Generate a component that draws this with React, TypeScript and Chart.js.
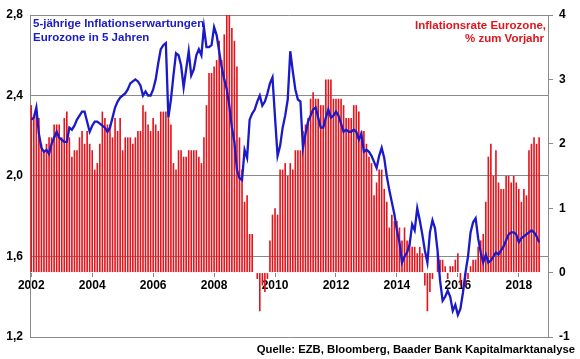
import React, { useEffect, useRef } from 'react';
import { Chart, registerables } from 'chart.js';

Chart.register(...registerables);

// ---------- data ----------
const years = [2002, 2003, 2004, 2005, 2006, 2007, 2008, 2009, 2010, 2011, 2012, 2013, 2014, 2015, 2016, 2017, 2018];
const xTickYears = ['2002', '2004', '2006', '2008', '2010', '2012', '2014', '2016', '2018'];
const leftTicks = [1.2, 1.6, 2.0, 2.4, 2.8];
const rightTicks = [-1, 0, 1, 2, 3, 4];

// Inflation rate eurozone, % yoy (right axis), monthly
const hicp2002 = [2.6, 2.4, 2.5, 2.4, 2.0, 1.9, 2.0, 2.1, 2.1, 2.3, 2.3, 2.3];
const hicp2003 = [2.1, 2.4, 2.5, 2.1, 1.8, 1.9, 1.9, 2.1, 2.2, 2.0, 2.2, 2.0];
const hicp2004 = [1.9, 1.6, 1.7, 2.0, 2.5, 2.4, 2.3, 2.3, 2.1, 2.4, 2.2, 2.4];
const hicp2005 = [1.9, 2.1, 2.1, 2.1, 2.0, 2.1, 2.2, 2.2, 2.6, 2.5, 2.3, 2.2];
const hicp2006 = [2.4, 2.3, 2.2, 2.5, 2.5, 2.5, 2.4, 2.3, 1.7, 1.6, 1.9, 1.9];
const hicp2007 = [1.8, 1.8, 1.9, 1.9, 1.9, 1.9, 1.8, 1.7, 2.1, 2.6, 3.1, 3.1];
const hicp2008 = [3.2, 3.3, 3.6, 3.3, 3.7, 4.0, 4.0, 3.8, 3.6, 3.2, 2.1, 1.6];
const hicp2009 = [1.1, 1.2, 0.6, 0.6, 0.0, -0.1, -0.6, -0.2, -0.3, -0.1, 0.5, 0.9];
const hicp2010 = [1.0, 0.9, 1.6, 1.6, 1.7, 1.5, 1.7, 1.6, 1.9, 1.9, 1.9, 2.2];
const hicp2011 = [2.3, 2.4, 2.7, 2.8, 2.7, 2.7, 2.6, 2.6, 3.0, 3.0, 3.0, 2.7];
const hicp2012 = [2.7, 2.7, 2.7, 2.6, 2.4, 2.4, 2.4, 2.6, 2.6, 2.5, 2.2, 2.2];
const hicp2013 = [2.0, 1.8, 1.7, 1.2, 1.4, 1.6, 1.6, 1.3, 1.1, 0.7, 0.9, 0.8];
const hicp2014 = [0.8, 0.7, 0.5, 0.7, 0.5, 0.5, 0.4, 0.4, 0.3, 0.4, 0.3, -0.2];
const hicp2015 = [-0.6, -0.3, -0.1, 0.0, 0.3, 0.2, 0.2, 0.1, -0.1, 0.1, 0.1, 0.2];
const hicp2016 = [0.3, -0.2, 0.0, -0.2, -0.1, 0.1, 0.2, 0.2, 0.4, 0.5, 0.6, 1.1];
const hicp2017 = [1.8, 2.0, 1.5, 1.9, 1.4, 1.3, 1.3, 1.5, 1.5, 1.4, 1.5, 1.4];
const hicp2018 = [1.3, 1.1, 1.3, 1.2, 1.9, 2.0, 2.1, 2.0, 2.1];

// 5y inflation expectations in 5 years (left axis), monthly
const exp2002 = [2.28, 2.29, 2.34, 2.21, 2.14, 2.12, 2.13, 2.11, 2.16, 2.19, 2.22, 2.19];
const exp2003 = [2.18, 2.17, 2.17, 2.24, 2.23, 2.25, 2.28, 2.30, 2.32, 2.32, 2.27, 2.22];
const exp2004 = [2.25, 2.27, 2.27, 2.26, 2.25, 2.24, 2.22, 2.24, 2.29, 2.34, 2.37, 2.39];
const exp2005 = [2.40, 2.41, 2.43, 2.46, 2.47, 2.48, 2.47, 2.45, 2.40, 2.42, 2.40, 2.40];
const exp2006 = [2.43, 2.48, 2.56, 2.63, 2.65, 2.66, 2.29, 2.38, 2.50, 2.61, 2.60, 2.55];
const exp2007 = [2.44, 2.53, 2.62, 2.50, 2.53, 2.60, 2.63, 2.60, 2.74, 2.64, 2.64, 2.65];
const exp2008 = [2.74, 2.70, 2.62, 2.54, 2.48, 2.43, 2.35, 2.24, 2.17, 2.03, 1.99, 1.98];
const exp2009 = [2.13, 2.09, 2.28, 2.31, 2.33, 2.37, 2.40, 2.35, 2.37, 2.41, 2.46, 2.49];
const exp2010 = [2.29, 2.10, 2.15, 2.24, 2.30, 2.38, 2.62, 2.52, 2.43, 2.38, 2.37, 2.14];
const exp2011 = [2.21, 2.27, 2.30, 2.33, 2.34, 2.29, 2.24, 2.24, 2.29, 2.33, 2.29, 2.30];
const exp2012 = [2.32, 2.30, 2.26, 2.22, 2.23, 2.22, 2.22, 2.23, 2.22, 2.18, 2.21, 2.12];
const exp2013 = [2.13, 2.12, 2.10, 2.07, 2.04, 2.10, 2.14, 2.09, 2.00, 1.93, 1.87, 1.81];
const exp2014 = [1.73, 1.67, 1.57, 1.60, 1.62, 1.66, 1.76, 1.73, 1.84, 1.78, 1.71, 1.63];
const exp2015 = [1.57, 1.72, 1.78, 1.74, 1.63, 1.48, 1.38, 1.40, 1.43, 1.40, 1.33, 1.36];
const exp2016 = [1.31, 1.34, 1.42, 1.52, 1.60, 1.72, 1.77, 1.79, 1.69, 1.62, 1.57, 1.61];
const exp2017 = [1.57, 1.58, 1.60, 1.62, 1.61, 1.63, 1.65, 1.68, 1.71, 1.72, 1.72, 1.71];
const exp2018 = [1.67, 1.69, 1.70, 1.71, 1.72, 1.73, 1.72, 1.70, 1.67];

const blueTitle = ['5-jährige Inflationserwartungen', 'Eurozone in 5 Jahren'];
const redTitle = ['Inflationsrate Eurozone,', '% zum Vorjahr'];
const sourceText = 'Quelle: EZB, Bloomberg, Baader Bank Kapitalmarktanalyse';

// ---------- styles ----------
const RED = '#E3141C';
const BLUE = '#1A1AC8';
const GRID = '#8a8a8a';
const FONT = '"Liberation Sans", Arial, sans-serif';

const categories: string[] = [];
years.forEach((y) => {
  for (let m = 1; m <= 12; m++) categories.push(`${y}-${String(m).padStart(2, '0')}`);
});

const pad = (arr: (number | null)[]) => {
  const out: (number | null)[] = arr.slice();
  while (out.length < categories.length) out.push(null);
  return out;
};

const inflation = pad([
  ...hicp2002, ...hicp2003, ...hicp2004, ...hicp2005, ...hicp2006, ...hicp2007, ...hicp2008, ...hicp2009,
  ...hicp2010, ...hicp2011, ...hicp2012, ...hicp2013, ...hicp2014, ...hicp2015, ...hicp2016, ...hicp2017, ...hicp2018,
]);
const expectations = pad([
  ...exp2002, ...exp2003, ...exp2004, ...exp2005, ...exp2006, ...exp2007, ...exp2008, ...exp2009,
  ...exp2010, ...exp2011, ...exp2012, ...exp2013, ...exp2014, ...exp2015, ...exp2016, ...exp2017, ...exp2018,
]);

const textPlugin = {
  id: 'textPlugin',
  afterDraw(chart: any) {
    const { ctx, chartArea } = chart;
    ctx.save();
    ctx.font = `bold 11.5px ${FONT}`;
    ctx.textBaseline = 'middle';
    ctx.fillStyle = BLUE;
    ctx.textAlign = 'left';
    ctx.fillText(blueTitle[0], chartArea.left + 3, chartArea.top + 9);
    ctx.fillText(blueTitle[1], chartArea.left + 3, chartArea.top + 23);
    ctx.fillStyle = RED;
    ctx.textAlign = 'right';
    ctx.fillText(redTitle[0], chartArea.right - 2, chartArea.top + 11);
    ctx.fillText(redTitle[1], chartArea.right - 4, chartArea.top + 24);
    ctx.fillStyle = '#000';
    ctx.font = `bold 11.3px ${FONT}`;
    ctx.fillText(sourceText, chart.width - 5, chartArea.bottom + 13);
    ctx.restore();
  },
};

export default function App() {
  const ref = useRef<HTMLCanvasElement | null>(null);

  useEffect(() => {
    if (!ref.current) return;
    Chart.defaults.font.family = FONT;
    const chart = new Chart(ref.current, {
      type: 'bar',
      data: {
        labels: categories,
        datasets: [
          {
            type: 'line',
            label: blueTitle.join(' '),
            data: expectations,
            yAxisID: 'y',
            borderColor: BLUE,
            borderWidth: 2.3,
            pointRadius: 0,
            tension: 0,
            order: 0,
          } as any,
          {
            type: 'bar',
            label: redTitle.join(' '),
            data: inflation,
            yAxisID: 'y2',
            backgroundColor: RED,
            borderWidth: 0,
            barPercentage: 0.64,
            categoryPercentage: 1.0,
            order: 1,
          } as any,
        ],
      },
      plugins: [textPlugin],
      options: {
        responsive: false,
        animation: false,
        devicePixelRatio: 1,
        layout: { padding: { top: 15, bottom: 22, left: 0, right: 0 } },
        plugins: { legend: { display: false }, tooltip: { enabled: false } },
        scales: {
          x: {
            type: 'category',
            position: { y2: 0 } as any,
            offset: true,
            grid: { drawOnChartArea: false, drawTicks: true, tickLength: 4, offset: false, color: GRID },
            border: { display: false },
            ticks: {
              autoSkip: false,
              maxRotation: 0,
              minRotation: 0,
              padding: 2,
              color: '#000',
              font: { size: 12, weight: 'bold' },
              callback: (_v: any, idx: number) => {
                const lab = categories[idx];
                if (!lab || !lab.endsWith('-01')) return null;
                const yr = lab.slice(0, 4);
                return xTickYears.includes(yr) ? yr : null;
              },
            },
          },
          y: {
            position: 'left',
            min: 1.2,
            max: 2.8,
            afterBuildTicks: (s: any) => {
              s.ticks = leftTicks.map((v) => ({ value: v }));
            },
            afterFit: (s: any) => {
              s.width = 30;
            },
            grid: { color: GRID, drawTicks: false, lineWidth: 1 },
            border: { display: true, color: GRID },
            ticks: {
              padding: 7,
              color: '#000',
              font: { size: 12, weight: 'bold' },
              callback: (v: any) => Number(v).toFixed(1).replace('.', ','),
            },
          },
          y2: {
            position: 'right',
            min: -1,
            max: 4,
            afterBuildTicks: (s: any) => {
              s.ticks = rightTicks.map((v) => ({ value: v }));
            },
            afterFit: (s: any) => {
              s.width = 32;
            },
            grid: { drawOnChartArea: false, drawTicks: true, tickLength: 5, color: GRID },
            border: { display: true, color: GRID },
            ticks: {
              padding: 6,
              color: '#000',
              font: { size: 12, weight: 'bold' },
              callback: (v: any) => String(v),
            },
          },
        },
      } as any,
    });
    return () => chart.destroy();
  }, []);

  return (
    <div style={{ position: 'absolute', left: 0, top: 0, width: 580, height: 359, background: '#fff' }}>
      <canvas ref={ref} width={580} height={359} style={{ width: 580, height: 359, display: 'block' }} />
    </div>
  );
}
